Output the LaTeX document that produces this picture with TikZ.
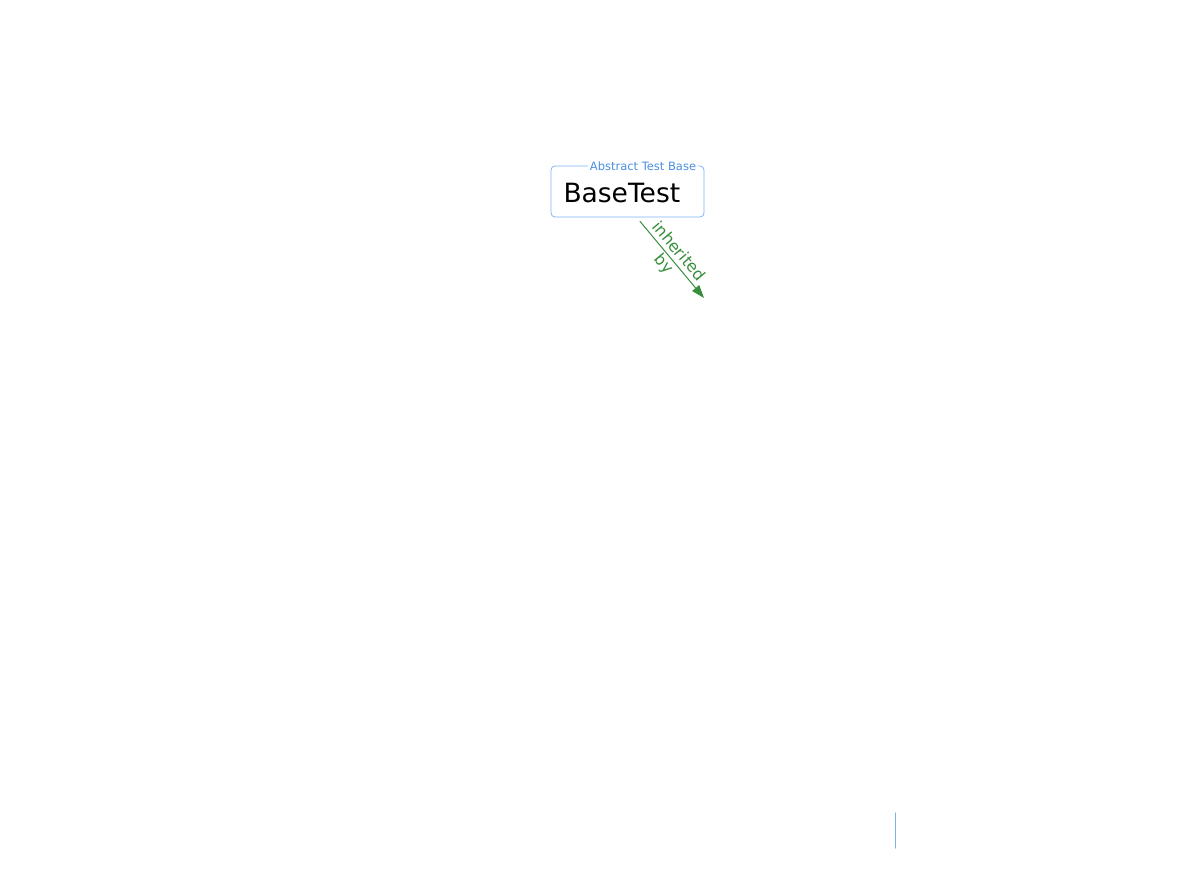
\documentclass[tikz,border=0pt]{standalone}
\usepackage{fontspec}
\setmainfont{DejaVu Sans}
\usetikzlibrary{arrows.meta}
\definecolor{boxblue}{HTML}{7FB2F5}
\definecolor{tagblue}{HTML}{4A90E2}
\definecolor{inhgreen}{HTML}{388E3C}
\tikzset{
	cls/.style={draw=boxblue, rounded corners=4pt, minimum width=153pt, minimum height=51pt, line width=.8pt,
		text width=128pt, align=left, inner xsep=0pt, text height=23pt, text depth=0pt, font=\fontsize{26.5}{30}\selectfont},
	tag/.style={fill=white, text=tagblue, inner sep=1.5pt, font=\fontsize{11.5}{13}\selectfont},
	inh/.style={draw=inhgreen, line width=1pt, -{Triangle[length=13pt,width=9pt]}}
}
\begin{document}
\begin{tikzpicture}[x=1pt, y=-1pt, line join=round, line cap=round]
	\useasboundingbox (0,0) rectangle (1203,872);
	\node[cls] (base) at (627.5,191.5) {BaseTest};
	\node[tag] (basetag) at (643,166) {Abstract Test Base};
	\coordinate (sub) at (704,298);
	\draw[inh] ([xshift=12.5pt,yshift=-4pt]base.south) -- (sub)
		node[midway, sloped, align=center, text=inhgreen, xshift=-2pt, font=\fontsize{16}{19.5}\selectfont]{inherited\\by};
	\draw[boxblue, line width=1.2pt] (895.5,813) -- (895.5,848);
\end{tikzpicture}
\end{document}
